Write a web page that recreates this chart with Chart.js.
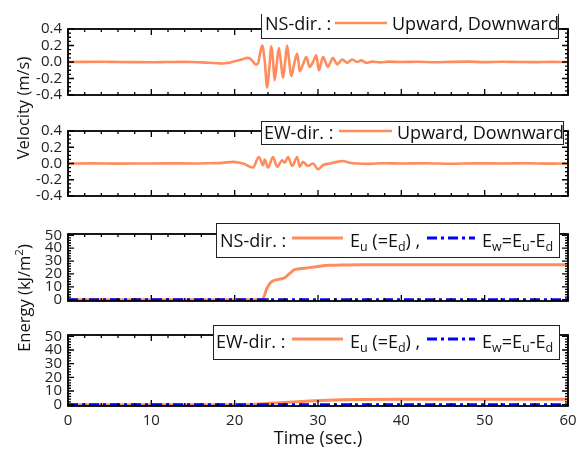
<!DOCTYPE html>
<html><head><meta charset="utf-8">
<script src="https://cdn.jsdelivr.net/npm/chart.js@4.4.1/dist/chart.umd.min.js"></script>
<style>
html,body{margin:0;padding:0;background:#fff;}
#wrap{position:relative;width:587px;height:450px;overflow:hidden;font-family:"Open Sans",sans-serif;color:#111;}
.pane{position:absolute;left:0;width:587px;}
.pane canvas{display:block;}
.ttl{position:absolute;white-space:nowrap;transform:translate(-50%,-50%);}
.rot{transform:translate(-50%,-50%) rotate(-90deg);}
sup{font-size:70%;line-height:0;}
</style></head><body>
<div id="wrap">
  <div class="pane" style="top:14px;height:96px"><canvas id="c1" width="587" height="96"></canvas></div>
  <div class="pane" style="top:116px;height:95px"><canvas id="c2" width="587" height="95"></canvas></div>
  <div class="pane" style="top:219px;height:97px"><canvas id="c3" width="587" height="97"></canvas></div>
  <div class="pane" style="top:320px;height:130px"><canvas id="c4" width="587" height="130"></canvas></div>
  <div class="ttl rot" style="left:22px;top:108px;font-size:16.5px">Velocity (m/s)</div>
  <div class="ttl rot" style="left:23px;top:298px;font-size:16.5px">Energy (kJ/m<sup>2</sup>)</div>
  <div class="ttl" style="left:318px;top:437px;font-size:18px">Time (sec.)</div>
</div>
<script>
// ---------------- data ----------------
const xTicks = [0, 10, 20, 30, 40, 50, 60];
const velTicks = [-0.4, -0.2, 0, 0.2, 0.4];
const energyTicks = [0, 10, 20, 30, 40, 50];

// NS-direction velocity (m/s)
const nsVelTime = [0,2,4,6,8,10,12,14,15,16,17,18,18.5,19,19.5,20,20.5,21,21.5,21.8,22.2,22.5,22.8,23.0,23.3,23.6,23.9,24.15,24.4,24.6,24.8,25.05,25.3,25.55,25.8,26.05,26.3,26.55,26.8,27.15,27.5,27.65,27.8,28.2,28.6,29.0,29.4,29.8,30.1,30.35,30.6,30.9,31.2,31.5,31.8,32.05,32.3,32.6,32.9,33.2,33.5,33.8,34.1,34.4,34.7,35.2,35.8,36.5,37.5,38.5,40,42,44,46,48,50,52,54,56,58,60];
const nsVel = [0,0.002,0.003,0,-0.002,-0.003,0,0.002,0,-0.004,-0.01,-0.015,-0.018,-0.012,-0.005,0.01,0.02,0.035,0.05,0.045,0.005,-0.03,-0.02,0.08,0.2,0.02,-0.31,-0.08,0.19,0.02,-0.22,-0.02,0.17,0,-0.19,0,0.2,0,-0.17,-0.02,0.1,0.01,-0.11,-0.03,0.06,-0.06,0,0.08,-0.1,-0.02,0.06,0,-0.06,0,0.05,0.01,-0.03,0,0.03,0.01,-0.01,0.01,0.03,0.015,0,0.02,-0.01,0.005,-0.005,0.004,0,0.003,-0.003,0.002,0.004,-0.002,0.003,0,-0.002,0.002,0];

// EW-direction velocity (m/s)
const ewVelTime = [0,3,6,9,12,15,17,18.5,19.8,21,22.2,22.9,23.4,23.6,24.0,24.6,25.1,25.7,26.0,26.4,26.9,27.5,27.8,28.2,28.8,29.4,30.0,30.6,31.4,32.3,33.0,33.8,34.7,36,38,40,43,46,49,52,55,58,60];
const ewVel = [0,0.002,-0.002,0,0.002,0,0.004,0.008,0.02,0,-0.05,0.08,-0.02,0.05,-0.05,0.08,-0.04,0.04,0.01,0.08,-0.03,0.08,-0.04,0.02,-0.03,0,-0.07,-0.02,0,0.02,0.03,0.01,0,-0.004,0.003,0,0.004,-0.003,0.002,0,0.003,-0.002,0];

// Energy (kJ/m2)
const nsEuTime = [0,10,20,22,23.3,23.9,24.4,25.4,26.0,26.6,27.2,28.4,30.2,31.4,33.4,36,40,50,60];
const nsEu = [0,0,0,0,0,9.3,13.8,16,17,20.4,23.3,24.4,26,26.7,27,27.1,27.2,27.2,27.2];
const ewEuTime = [0,10,20,21.5,23,25,27,29,31,33,35,40,50,60];
const ewEu = [0,0,0,0,0.5,1.2,2.0,2.7,3.2,3.5,3.7,3.9,3.9,3.9];
const ewTime = [0,60];
const nsEw = [0,0];
const ewEw = [0,0];

// ---------------- styles ----------------
const ORANGE = '#ff8c5c';
const BLUE = '#0000ff';
const DASHDOT = [10,4,3,4];
const FONT = '"Open Sans", sans-serif';
const LEG = 18, SUB = 12.5;
Chart.defaults.font.family = FONT;

const pts = (t, v) => t.map((x, i) => ({x, y: v[i]}));

const boxTicks = {
  id: 'boxTicks',
  afterDatasetsDraw(chart, _a, o) {
    const {ctx, chartArea: a} = chart;
    const xs = chart.scales.x, ys = chart.scales.y;
    ctx.save();
    ctx.strokeStyle = '#000';
    ctx.lineWidth = 1.3;
    ctx.beginPath();
    const nx = Math.round((o.xTo - o.xFrom) / o.xMinor);
    for (let i = 0; i <= nx; i++) {
      const v = o.xFrom + i * o.xMinor;
      const p = xs.getPixelForValue(v);
      const len = o.xMajor.some(m => Math.abs(m - v) < 1e-6) ? 6 : 3;
      ctx.moveTo(p, a.bottom); ctx.lineTo(p, a.bottom - len);
      ctx.moveTo(p, a.top); ctx.lineTo(p, a.top + len);
    }
    const ny = Math.round((o.yTo - o.yFrom) / o.yMinor);
    for (let i = 0; i <= ny; i++) {
      const v = o.yFrom + i * o.yMinor;
      const p = ys.getPixelForValue(v);
      const len = o.yMajor.some(m => Math.abs(m - v) < 1e-6) ? 6 : 3;
      ctx.moveTo(a.left, p); ctx.lineTo(a.left + len, p);
      ctx.moveTo(a.right, p); ctx.lineTo(a.right - len, p);
    }
    ctx.stroke();
    ctx.lineWidth = 1.8;
    ctx.strokeRect(a.left, a.top, a.right - a.left, a.bottom - a.top);
    ctx.restore();
  }
};

function drawRuns(ctx, runs, x, y) {
  ctx.fillStyle = '#111';
  ctx.textBaseline = 'alphabetic';
  ctx.textAlign = 'left';
  for (const r of runs) {
    ctx.font = (r.sub ? SUB : LEG) + 'px ' + FONT;
    ctx.fillText(r.t, x, y + (r.sub ? 4 : 0));
    x += ctx.measureText(r.t).width;
  }
}

const boxLegend = {
  id: 'boxLegend',
  afterDraw(chart, _a, o) {
    const ctx = chart.ctx, off = o.top;
    ctx.save();
    const [bx, by, bw, bh] = o.box;
    ctx.fillStyle = '#fff';
    ctx.fillRect(bx, by - off, bw, bh);
    ctx.strokeStyle = '#222';
    ctx.lineWidth = 1;
    ctx.strokeRect(bx + 0.5, by - off + 0.5, bw, bh);
    for (const it of o.items) {
      if (it.runs) drawRuns(ctx, it.runs, it.x, it.y - off);
      else {
        ctx.strokeStyle = it.color;
        ctx.lineWidth = it.width;
        ctx.setLineDash(it.dash || []);
        ctx.beginPath();
        ctx.moveTo(it.x1, it.y - off); ctx.lineTo(it.x2, it.y - off);
        ctx.stroke();
        ctx.setLineDash([]);
      }
    }
    ctx.restore();
  }
};

function makeChart(id, top, o) {
  const last = !!o.showX;
  return new Chart(document.getElementById(id), {
    type: 'line',
    data: {datasets: o.datasets},
    options: {
      responsive: false, animation: false, devicePixelRatio: 1,
      layout: {padding: {top: 10, bottom: last ? 0 : 10, left: 0, right: 19}},
      elements: {point: {radius: 0}},
      plugins: {
        legend: {display: false}, tooltip: {enabled: false},
        boxTicks: {xFrom: 0, xTo: 60, xMinor: 2, xMajor: xTicks,
                   yFrom: o.yTicks[0], yTo: o.yTicks[o.yTicks.length - 1], yMinor: o.yMinor, yMajor: o.yTicks},
        boxLegend: Object.assign({top}, o.legend)
      },
      scales: {
        x: {type: 'linear', min: 0, max: 60, display: last,
            afterBuildTicks: s => { s.ticks = xTicks.map(v => ({value: v})); },
            ticks: {font: {size: 15}, color: '#222', padding: 6, maxRotation: 0, autoSkip: false},
            grid: {display: false, drawTicks: false}, border: {display: false},
            afterFit: s => { s.height = last ? 44 : 0; }},
        y: {type: 'linear', min: o.yMin, max: o.yMax,
            afterBuildTicks: s => { s.ticks = o.yTicks.map(v => ({value: v})); },
            ticks: {font: {size: 15}, color: '#222', padding: 6, callback: o.fmt, autoSkip: false},
            grid: {display: false, drawTicks: false}, border: {display: false},
            afterFit: s => { s.width = 68; }}
      }
    },
    plugins: [boxTicks, boxLegend]
  });
}

const velFmt = v => (Math.abs(v) < 1e-9 ? 0 : v).toFixed(1);
const enFmt = v => String(Math.round(v));
const velLine = (t, v) => ({data: pts(t, v), borderColor: ORANGE, borderWidth: 2.6, cubicInterpolationMode: 'monotone', fill: false});

const euRuns = [{t:'E'},{t:'u',sub:true},{t:' (=E'},{t:'d',sub:true},{t:') ,'}];
const ewRuns = [{t:'E'},{t:'w',sub:true},{t:'=E'},{t:'u',sub:true},{t:'-E'},{t:'d',sub:true}];

makeChart('c1', 14, {
  datasets: [velLine(nsVelTime, nsVel)],
  yMin: -0.4, yMax: 0.4, yTicks: velTicks, yMinor: 0.05, fmt: velFmt,
  legend: {box: [261, 8, 297, 30], items: [
    {runs: [{t:'NS-dir. :'}], x: 265, y: 30},
    {x1: 335, x2: 387, y: 23, color: ORANGE, width: 2.6},
    {runs: [{t:'Upward, Downward'}], x: 392, y: 30}
  ]}
});
makeChart('c2', 116, {
  datasets: [velLine(ewVelTime, ewVel)],
  yMin: -0.4, yMax: 0.4, yTicks: velTicks, yMinor: 0.05, fmt: velFmt,
  legend: {box: [261, 121, 302, 23], items: [
    {runs: [{t:'EW-dir. :'}], x: 264, y: 139},
    {x1: 339, x2: 392, y: 131, color: ORANGE, width: 2.6},
    {runs: [{t:'Upward, Downward'}], x: 397, y: 139}
  ]}
});
const energySets = (tu, u, tw, w) => [
  {data: pts(tw, w), borderColor: BLUE, borderWidth: 3, borderDash: DASHDOT, order: 0, fill: false},
  {data: pts(tu, u), borderColor: ORANGE, borderWidth: 3, cubicInterpolationMode: 'monotone', order: 1, fill: false}
];
makeChart('c3', 219, {
  datasets: energySets(nsEuTime, nsEu, ewTime, nsEw),
  yMin: -1, yMax: 51, yTicks: energyTicks, yMinor: 2, fmt: enFmt,
  legend: {box: [216, 223, 343, 34], items: [
    {runs: [{t:'NS-dir. :'}], x: 220, y: 247},
    {x1: 292, x2: 343, y: 238, color: ORANGE, width: 3},
    {runs: euRuns, x: 350, y: 247},
    {x1: 427, x2: 475, y: 238, color: BLUE, width: 3, dash: DASHDOT},
    {runs: ewRuns, x: 482, y: 247}
  ]}
});
makeChart('c4', 320, {
  datasets: energySets(ewEuTime, ewEu, ewTime, ewEw),
  yMin: -1, yMax: 51, yTicks: energyTicks, yMinor: 2, fmt: enFmt, showX: true,
  legend: {box: [213, 325, 346, 34], items: [
    {runs: [{t:'EW-dir. :'}], x: 216, y: 348},
    {x1: 292, x2: 343, y: 339, color: ORANGE, width: 3},
    {runs: euRuns, x: 350, y: 348},
    {x1: 427, x2: 475, y: 339, color: BLUE, width: 3, dash: DASHDOT},
    {runs: ewRuns, x: 482, y: 348}
  ]}
});
</script>
</body></html>
